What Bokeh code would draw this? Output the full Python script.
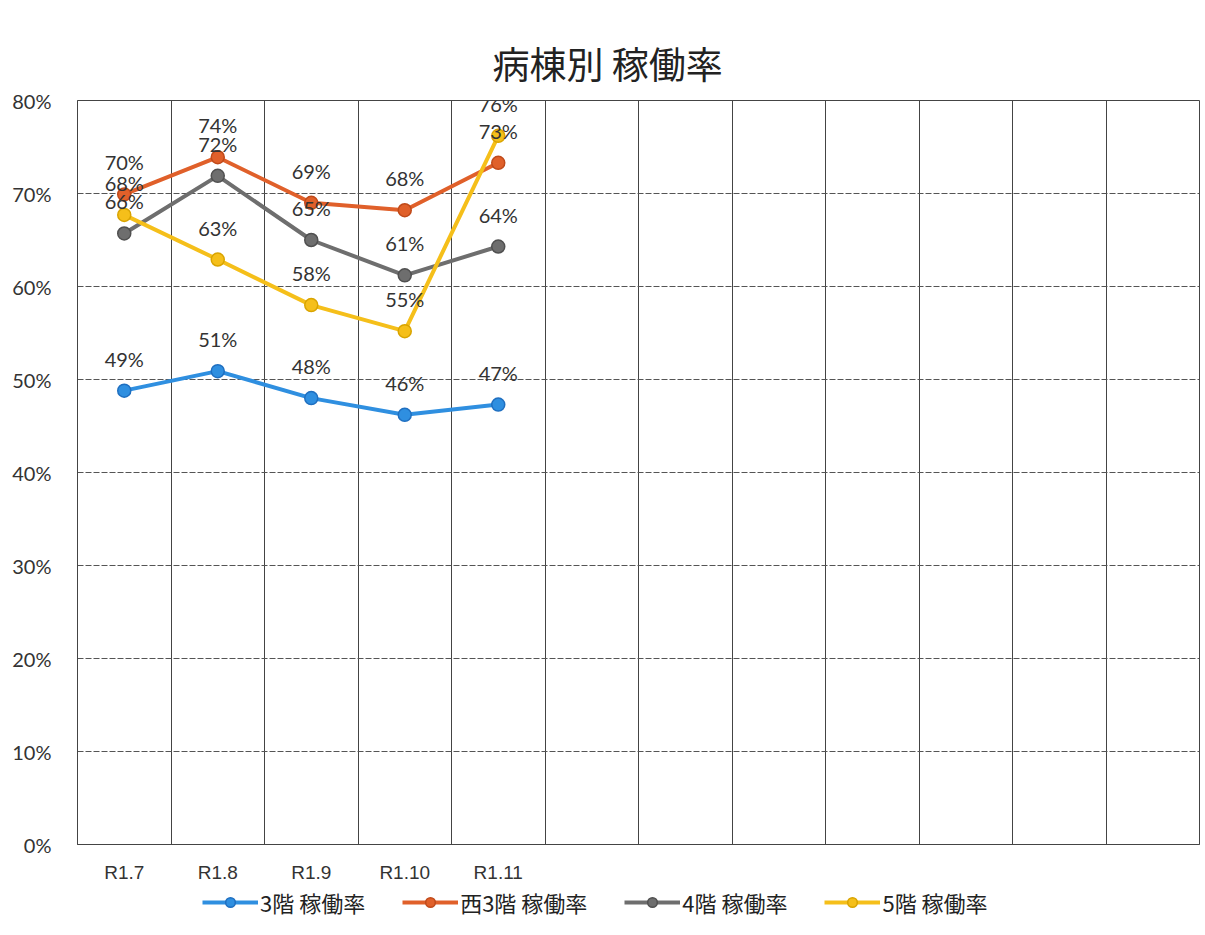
from bokeh.plotting import figure
from bokeh.layouts import column
from bokeh.models import (ColumnDataSource, FixedTicker, PrintfTickFormatter, Legend,
                          LegendItem, LabelSet, Range1d)
from bokeh.core.properties import value
from bokeh.embed import file_html
from bokeh.resources import INLINE

# ---- data ----
categories = ["R1.7", "R1.8", "R1.9", "R1.10", "R1.11"]
n_slots = 12  # columns shown on the category axis (only the first five have data)
series_names = ["3階 稼働率", "西3階 稼働率", "4階 稼働率", "5階 稼働率"]
floor3 = [48.8, 50.9, 48.0, 46.2, 47.3]
west3 = [69.9, 73.9, 69.0, 68.2, 73.3]
floor4 = [65.7, 71.9, 65.0, 61.2, 64.3]
floor5 = [67.7, 62.9, 58.0, 55.2, 76.2]
y_ticks = [0, 10, 20, 30, 40, 50, 60, 70, 80]

colors = ["#2F8FE0", "#E0602A", "#6E6E6E", "#F5BF1A"]
edge_colors = ["#1F6FC0", "#C04A1A", "#505050", "#D9A400"]
series = [floor3, west3, floor4, floor5]

LABEL_FONT = "Lato"
CJK = "Noto Sans CJK JP"

p = figure(width=1201, height=885, output_backend="svg", toolbar_location=None,
           x_range=Range1d(-0.5, n_slots - 0.5), y_range=Range1d(0, 80),
           min_border_left=77, min_border_right=2, min_border_top=100, min_border_bottom=0,
           background_fill_color="white", border_fill_color="white",
           outline_line_color="#444444", outline_line_width=1)

p.title.text = "病棟別 稼働率"
p.title.text_font = CJK
p.title.text_font_size = "37px"
p.title.text_font_style = "normal"
p.title.text_color = "#222222"
p.title.align = "left"
p.title.offset = 415
p.title.standoff = 22

# grids
p.xgrid.ticker = FixedTicker(ticks=[i + 0.5 for i in range(n_slots - 1)])
p.xgrid.grid_line_color = "#444444"
p.xgrid.grid_line_width = 1
p.ygrid.ticker = FixedTicker(ticks=y_ticks)
p.ygrid.grid_line_color = "#555555"
p.ygrid.grid_line_dash = "6 2"
p.ygrid.grid_line_width = 1

# axes
p.xaxis.ticker = FixedTicker(ticks=list(range(len(categories))))
p.xaxis.major_label_overrides = {i: c for i, c in enumerate(categories)}
p.xaxis.major_label_text_font = "Liberation Sans"
p.xaxis.major_label_text_font_size = "19px"
p.xaxis.major_label_text_color = "#333333"
p.xaxis.major_label_standoff = 17
p.xaxis.major_tick_out = 0
p.xaxis.major_tick_in = 0
p.xaxis.major_tick_line_color = None
p.xaxis.minor_tick_line_color = None
p.xaxis.axis_line_color = "#444444"

p.yaxis.ticker = FixedTicker(ticks=y_ticks)
p.yaxis.formatter = PrintfTickFormatter(format="%d%%")
p.yaxis.major_label_text_font = LABEL_FONT
p.yaxis.major_label_text_font_size = "20px"
p.yaxis.major_label_text_color = "#333333"
p.yaxis.major_label_standoff = 20
p.yaxis.major_tick_line_color = None
p.yaxis.minor_tick_line_color = None
p.yaxis.axis_line_color = "#444444"

xs = list(range(len(categories)))

# legend lives in a thin strip below the chart (its frame aligns with the chart's)
lf = figure(width=1201, height=49, output_backend="svg", toolbar_location=None,
            x_range=Range1d(0, 1), y_range=Range1d(0, 1),
            x_axis_location=None, y_axis_location=None,
            min_border_left=0, min_border_right=0, min_border_top=0, min_border_bottom=0,
            outline_line_color=None, background_fill_color="white",
            border_fill_color="white")
lf.grid.visible = False

items = []
for name, vals, col, ecol in zip(series_names, series, colors, edge_colors):
    src = ColumnDataSource(dict(x=xs, y=vals, lbl=[f"{round(v)}%" for v in vals]))
    p.line("x", "y", source=src, line_color=col, line_width=4)
    p.scatter("x", "y", source=src, size=13, fill_color=col, line_color=ecol,
              line_width=1.5)
    labels = LabelSet(x="x", y="y", text="lbl", source=src, x_offset=0, y_offset=32,
                      text_align="center", text_baseline="middle",
                      text_font=value(LABEL_FONT), text_font_size=value("20px"),
                      text_color="#333333")
    p.add_layout(labels)
    # legend proxies (kept outside the strip's visible range) with the same styling
    proxy = ColumnDataSource(dict(x=[-5, -4], y=[-5, -5]))
    lr = lf.line("x", "y", source=proxy, line_color=col, line_width=4)
    ls = lf.scatter("x", "y", source=proxy, size=13, fill_color=col, line_color=ecol,
                    line_width=1.5)
    items.append(LegendItem(label=name, renderers=[lr, ls]))

legend = Legend(items=items, orientation="horizontal", location=(125, 16),
                label_text_font=CJK, label_text_font_size="22px", label_text_color="#222222",
                glyph_width=56, glyph_height=24, label_height=24, label_standoff=2,
                spacing=37, padding=0, margin=0, border_line_color=None,
                background_fill_alpha=0)
lf.add_layout(legend, "center")

layout = column(p, lf, spacing=0)
open("out.html", "w").write(file_html(layout, INLINE))
